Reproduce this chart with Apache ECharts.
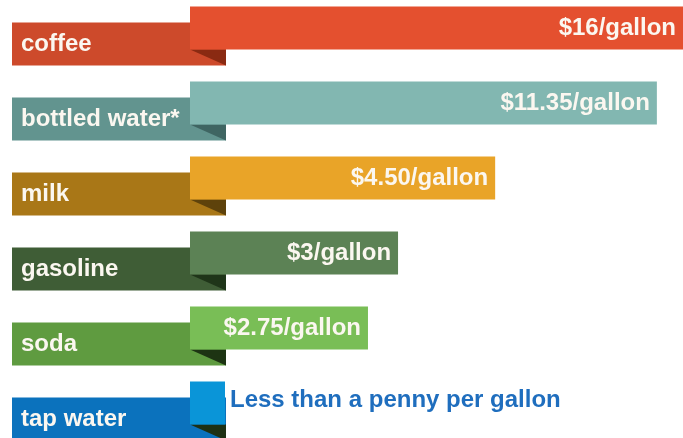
<!DOCTYPE html>
<html>
<head>
<meta charset="utf-8">
<script src="https://cdn.jsdelivr.net/npm/echarts@6/dist/echarts.min.js"></script>
<style>
html,body{margin:0;padding:0;background:#fff;}
#chart{width:683px;height:438px;}
</style>
</head>
<body>
<div id="chart"></div>
<script>
// Items (top to bottom)
var categories = ['coffee', 'bottled water*', 'milk', 'gasoline', 'soda', 'tap water'];
// Price labels shown on the bars
var priceLabels = ['$16/gallon', '$11.35/gallon', '$4.50/gallon', '$3/gallon', '$2.75/gallon', 'Less than a penny per gallon'];
// Drawn bar lengths (infographic, not to price scale), % of the longest bar
var barLength = [100, 94.7, 61.9, 42.2, 36.1, 7.1];

var labelColors = ['#CD4A2B', '#62948F', '#A97717', '#3F5D36', '#5F9B40', '#0B72BD'];
var barColors   = ['#E4502F', '#82B7B1', '#E9A428', '#5C8255', '#79BE56', '#0A95D8'];
var foldColors  = ['#8A2A12', '#3F6562', '#5E420B', '#1F3519', '#1D3413', '#1D3114'];

var FONT = '"Liberation Sans", Arial, sans-serif';

var data = barLength.map(function (v, i) { return [v, i]; });

var chart = echarts.init(document.getElementById('chart'));
chart.setOption({
  animation: false,
  backgroundColor: '#ffffff',
  grid: { left: 190, right: 0, top: 28, bottom: 35 },
  xAxis: { type: 'value', min: 0, max: 100, show: false },
  yAxis: { type: 'category', data: categories, inverse: true, boundaryGap: false, show: false },
  series: [{
    type: 'custom',
    clip: false,
    data: data,
    renderItem: function (params, api) {
      var i = api.value(1);
      var start = api.coord([0, i]);
      var end = api.coord([api.value(0), i]);
      var cy = start[1];
      var h = 43;
      var barTop = cy - h / 2;
      var barBottom = cy + h / 2;
      var lblTop = barTop + 16;
      var lblBottom = barBottom + 16;
      var x0 = start[0];
      var foldW = 36;
      var isLast = i === categories.length - 1;
      return {
        type: 'group',
        children: [
          { type: 'rect', shape: { x: 12, y: lblTop, width: x0 + foldW - 12, height: h },
            style: { fill: labelColors[i] } },
          { type: 'polygon', shape: { points: [[x0, barBottom], [x0 + foldW, barBottom], [x0 + foldW, lblBottom]] },
            style: { fill: foldColors[i] } },
          { type: 'rect', shape: { x: x0, y: barTop, width: end[0] - x0, height: h },
            style: { fill: barColors[i] } },
          { type: 'text', x: 21, y: (lblTop + lblBottom) / 2,
            style: { text: categories[i], fill: '#FBF7F0', font: 'bold 24px ' + FONT,
                     textAlign: 'left', textVerticalAlign: 'middle' } },
          isLast ?
          { type: 'text', x: end[0] + 5, y: cy - 3,
            style: { text: priceLabels[i], fill: '#1F6EBE', font: 'bold 24px ' + FONT,
                     textAlign: 'left', textVerticalAlign: 'middle' } } :
          { type: 'text', x: end[0] - 7, y: cy,
            style: { text: priceLabels[i], fill: '#FBF7F0', font: 'bold 24px ' + FONT,
                     textAlign: 'right', textVerticalAlign: 'middle' } }
        ]
      };
    }
  }]
});
</script>
</body>
</html>
